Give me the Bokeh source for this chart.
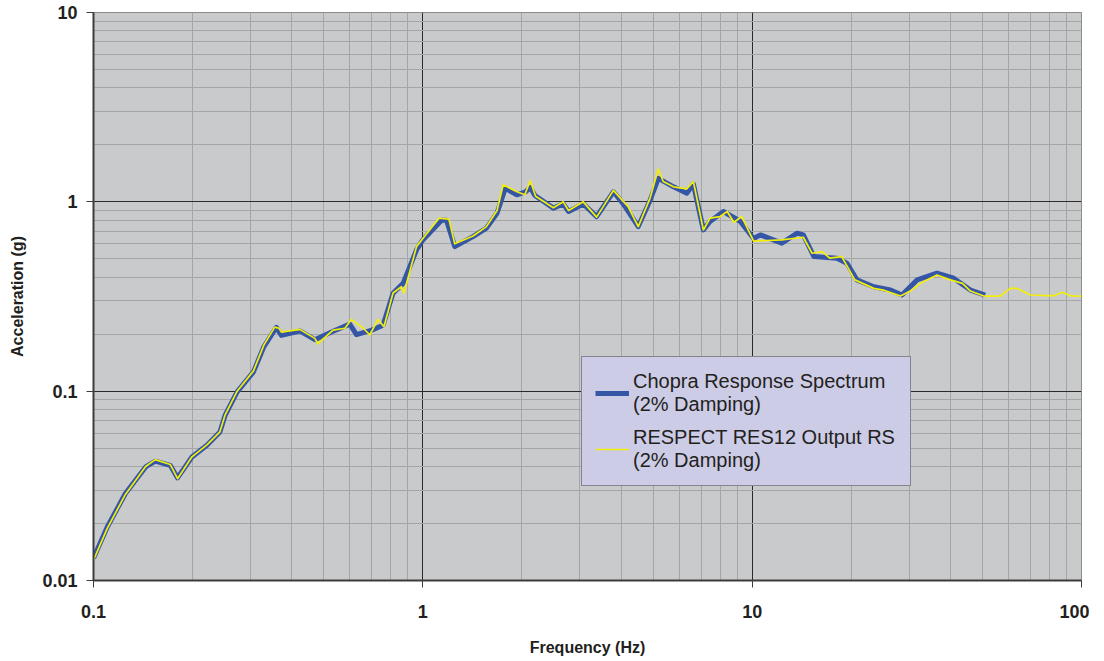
from bokeh.plotting import figure
from bokeh.models import (FixedTicker, CustomJSTickFormatter, Legend, LegendItem)
from bokeh.embed import file_html
from bokeh.resources import INLINE

# Chopra response spectrum (2% damping)
chopra_freq = [0.1, 0.11, 0.125, 0.144, 0.154, 0.171, 0.18, 0.199, 0.221, 0.242,
               0.251, 0.273, 0.306, 0.329, 0.359, 0.372, 0.423, 0.47, 0.534, 0.60,
               0.629, 0.70, 0.757, 0.812, 0.871, 0.957, 1.0, 1.14, 1.18, 1.25,
               1.42, 1.56, 1.68, 1.78, 1.93, 2.05, 2.12, 2.19, 2.49, 2.67,
               2.77, 3.07, 3.37, 3.79, 4.06, 4.51, 4.90, 5.19, 5.77, 6.33,
               6.63, 7.11, 7.45, 8.18, 9.19, 10.1, 10.6, 12.3, 13.7, 14.3,
               15.4, 18.1, 19.4, 20.8, 23.4, 26.3, 28.5, 30.2, 31.7, 36.4,
               40.9, 46.0, 51.0]
chopra_acc = [0.0131, 0.0191, 0.0288, 0.0398, 0.0427, 0.0406, 0.0348, 0.0449, 0.0518, 0.0609,
              0.0746, 0.0992, 0.1265, 0.1715, 0.217, 0.197, 0.208, 0.187, 0.207, 0.226,
              0.199, 0.21, 0.223, 0.329, 0.371, 0.557, 0.629, 0.80, 0.80, 0.58,
              0.655, 0.726, 0.871, 1.18, 1.089, 1.13, 1.19, 1.08, 0.926, 0.975,
              0.889, 0.975, 0.836, 1.13, 0.975, 0.74, 1.02, 1.33, 1.20, 1.11,
              1.24, 0.711, 0.787, 0.889, 0.79, 0.64, 0.669, 0.605, 0.683, 0.669,
              0.514, 0.504, 0.474, 0.387, 0.356, 0.342, 0.322, 0.356, 0.387, 0.420,
              0.395, 0.342, 0.322]

# RESPECT RES12 output response spectrum (2% damping)
respect_freq = [0.1, 0.11, 0.125, 0.144, 0.154, 0.171, 0.18, 0.199, 0.221, 0.242,
                0.251, 0.273, 0.306, 0.329, 0.355, 0.366, 0.372, 0.423, 0.47, 0.48,
                0.534, 0.58, 0.607, 0.66, 0.69, 0.731, 0.762, 0.812, 0.861, 0.876,
                0.957, 1.0, 1.12, 1.2, 1.25, 1.42, 1.56, 1.68, 1.754, 1.93,
                2.04, 2.12, 2.2, 2.49, 2.67, 2.77, 3.07, 3.37, 3.79, 4.2,
                4.51, 4.9, 5.19, 5.37, 5.77, 6.33, 6.63, 7.11, 7.45, 7.99,
                8.4, 8.8, 9.3, 10.1, 12.3, 14.3, 15.2, 16.3, 17.2, 18.7,
                20.5, 23.4, 25.0, 28.2, 30.2, 32.4, 36.4, 40.0, 43.5, 46.0,
                50.5, 56.7, 60.8, 63.8, 70.0, 82.4, 87.4, 92.7, 100.0]
respect_acc = [0.0128, 0.0188, 0.0285, 0.040, 0.0435, 0.041, 0.0345, 0.045, 0.052, 0.061,
               0.075, 0.100, 0.128, 0.175, 0.218, 0.215, 0.205, 0.212, 0.19, 0.178,
               0.21, 0.215, 0.2395, 0.215, 0.198, 0.2395, 0.219, 0.33, 0.356, 0.329,
               0.58, 0.64, 0.819, 0.81, 0.60, 0.66, 0.74, 0.90, 1.23, 1.13,
               1.09, 1.296, 1.07, 0.93, 1.0, 0.90, 1.0, 0.83, 1.15, 0.944,
               0.74, 1.05, 1.49, 1.28, 1.20, 1.17, 1.28, 0.71, 0.82, 0.836,
               0.889, 0.78, 0.836, 0.62, 0.63, 0.65, 0.535, 0.546, 0.504, 0.514,
               0.387, 0.349, 0.342, 0.318, 0.338, 0.371, 0.411, 0.387, 0.371, 0.338,
               0.318, 0.318, 0.349, 0.349, 0.322, 0.319, 0.333, 0.319, 0.318]

x_major = [0.1, 1, 10, 100]
y_major = [0.01, 0.1, 1, 10]
x_minor = [d * k for d in [0.1, 1, 10] for k in range(2, 10)]
y_minor = [d * k for d in [0.01, 0.1, 1] for k in range(2, 10)]

FONT = "Liberation Sans"

p = figure(x_axis_type="log", y_axis_type="log",
           x_range=(0.1, 100), y_range=(0.01, 10),
           frame_width=988, frame_height=568,
           min_border_left=93, min_border_top=12, min_border_right=8, min_border_bottom=68,
           output_backend="svg", toolbar_location=None,
           background_fill_color="#C9CACC", border_fill_color="white")

p.outline_line_color = "#8C8C8C"
p.outline_line_width = 1

xt = FixedTicker(ticks=x_major, minor_ticks=x_minor)
yt = FixedTicker(ticks=y_major, minor_ticks=y_minor)
p.xaxis.ticker = xt
p.yaxis.ticker = yt
p.xgrid.ticker = xt
p.ygrid.ticker = yt

p.xaxis.formatter = CustomJSTickFormatter(code="return String(Math.round(tick*1000)/1000);")
p.yaxis.formatter = CustomJSTickFormatter(code="return String(Math.round(tick*1000)/1000);")

for g in (p.xgrid, p.ygrid):
    g.grid_line_color = "#2A2A2A"
    g.grid_line_width = 1
    g.minor_grid_line_color = "#A4A5A7"
    g.minor_grid_line_width = 1

for ax in (p.xaxis, p.yaxis):
    ax.axis_line_color = "#3C3C3C"
    ax.axis_line_width = 2
    ax.major_tick_line_color = "#3C3C3C"
    ax.major_tick_in = 0
    ax.major_tick_out = 7
    ax.minor_tick_line_color = None
    ax.major_label_text_font = FONT
    ax.major_label_text_font_style = "bold"
    ax.major_label_text_font_size = "18px"
    ax.major_label_text_color = "#231F20"
    ax.axis_label_text_font = FONT
    ax.axis_label_text_font_style = "bold"
    ax.axis_label_text_font_size = "16px"
    ax.axis_label_text_color = "#231F20"

p.xaxis.major_label_standoff = 17
p.yaxis.major_label_standoff = 9
p.xaxis.axis_label = "Frequency (Hz)"
p.yaxis.axis_label = "Acceleration (g)"
p.xaxis.axis_label_standoff = 18
p.yaxis.axis_label_standoff = 13

r1 = p.line(chopra_freq, chopra_acc, line_color="#3556A6", line_width=5, line_join="round")
r2 = p.line(respect_freq, respect_acc, line_color="#F2EE0A", line_width=1.7, line_join="round")

legend = Legend(items=[
    LegendItem(label="Chopra Response Spectrum\n(2% Damping)", renderers=[r1]),
    LegendItem(label="RESPECT RES12 Output RS\n(2% Damping)", renderers=[r2]),
], location=(488, 94))
legend.background_fill_color = "#CDCCE6"
legend.background_fill_alpha = 1
legend.border_line_color = "#3C3C3C"
legend.border_line_width = 1
legend.label_text_font = FONT
legend.label_text_font_size = "20px"
legend.label_text_line_height = 1.05
legend.label_text_color = "#231F20"
legend.label_width = 264
legend.glyph_width = 34
legend.glyph_height = 20
legend.label_standoff = 4
legend.padding = 13
legend.spacing = 10
legend.margin = 0
p.add_layout(legend, "center")

open("out.html", "w").write(file_html(p, INLINE))
